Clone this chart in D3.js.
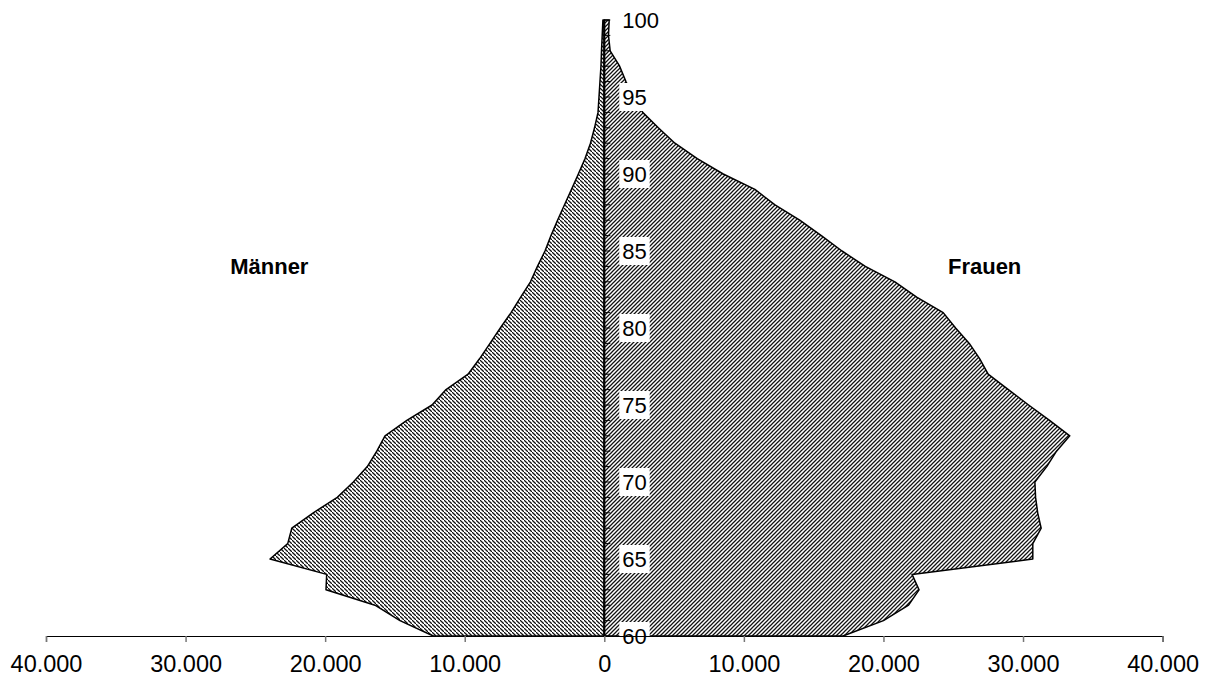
<!DOCTYPE html>
<html>
<head>
<meta charset="utf-8">
<script src="https://cdn.jsdelivr.net/npm/d3@7"></script>
<style>
  html, body { margin: 0; padding: 0; background: #fff; }
  svg { display: block; font-family: Arial, "Liberation Sans", sans-serif; }
</style>
</head>
<body>
<svg id="chart" width="1209" height="686"></svg>
<script>
// ---- data ----
const ages = [60,61,62,63,64,65,66,67,68,69,70,71,72,73,74,75,76,77,78,79,80,
              81,82,83,84,85,86,87,88,89,90,91,92,93,94,95,96,97,98,99,100];
const maenner = [12250,14640,16430,19940,19890,23950,22680,22390,20850,19130,17980,
                 16980,16300,15710,14150,12340,11340,9760,8940,8190,7450,
                 6680,5990,5290,4790,4250,3820,3350,2850,2350,1860,
                 1380,990,700,450,380,310,240,200,150,100];
const frauen = [17100,20000,21800,22550,22050,30700,30700,31300,31050,30900,30850,
                31700,32400,33350,31900,30400,28950,27500,26900,26150,25170,
                24280,22380,20820,18700,17030,15550,14000,12230,10790,8520,
                6660,5060,3870,2750,2100,1550,1100,420,300,350];
const xTicks = [-40000,-30000,-20000,-10000,0,10000,20000,30000,40000];
const ageLabels = [60,65,70,75,80,85,90,95,100];
const seriesNames = ["Männer","Frauen"];

// ---- scales ----
const svg = d3.select("#chart");
const x = d3.scaleLinear().domain([-40000, 40000]).range([46, 1162.6]);
const y = d3.scaleLinear().domain([60, 100]).range([636, 20]);
const loc = d3.formatLocale({decimal: ",", thousands: ".", grouping: [3], currency: ["", "€"]});
const fmt = loc.format(",");

// ---- patterns ----
const defs = svg.append("defs");
defs.append("pattern").attr("id","hatchL").attr("patternUnits","userSpaceOnUse")
  .attr("width",4).attr("height",4)
  .append("path").attr("d","M-1,-1 L1,1 M0,0 L4,4 M3,3 L5,5")
  .attr("stroke","#111").attr("stroke-width",1.25);
defs.append("pattern").attr("id","hatchR").attr("patternUnits","userSpaceOnUse")
  .attr("width",4).attr("height",4)
  .append("path").attr("d","M-1,1 L1,-1 M0,4 L4,0 M3,5 L5,3")
  .attr("stroke","#111").attr("stroke-width",1.25);

// ---- areas ----
const menData = ages.map((a,i) => ({age: a, v: -maenner[i]}));
const womenData = ages.map((a,i) => ({age: a, v: frauen[i]}));
const area = d3.area().x0(() => x(0)).x1(d => x(d.v)).y(d => y(d.age));

svg.append("path").datum(menData)
  .attr("d", area)
  .attr("fill","url(#hatchL)").attr("stroke","#000").attr("stroke-width",1.5)
  .attr("stroke-linejoin","round");
svg.append("path").datum(womenData)
  .attr("d", area)
  .attr("fill","url(#hatchR)").attr("stroke","#000").attr("stroke-width",1.5)
  .attr("stroke-linejoin","round");

// ---- vertical age axis ----
const yAxisG = svg.append("g");
yAxisG.append("line")
  .attr("x1", x(0)).attr("x2", x(0)).attr("y1", y(60)).attr("y2", y(100))
  .attr("stroke","#000").attr("stroke-width",2);
yAxisG.selectAll("line.tick").data(ages).enter().append("line")
  .attr("class","tick")
  .attr("x1", x(0)).attr("x2", x(0) + 6)
  .attr("y1", d => y(d)).attr("y2", d => y(d))
  .attr("stroke","#000").attr("stroke-width",1);

const lab = yAxisG.selectAll("g.agelab").data(ageLabels).enter().append("g")
  .attr("class","agelab")
  .attr("transform", d => `translate(${x(0) + 18},${y(d)})`);
lab.append("rect")
  .attr("x", -3).attr("y", -14)
  .attr("width", d => String(d).length * 12.2 + 6).attr("height", 28)
  .attr("fill","#fff");
lab.append("text")
  .attr("x", 0).attr("y", 0).attr("dy","0.35em")
  .attr("font-size", 22).attr("fill","#000")
  .text(d => d);

// ---- horizontal axis ----
const xAxis = d3.axisBottom(x).tickValues(xTicks).tickSize(6).tickPadding(13)
  .tickFormat(d => fmt(Math.abs(d)));
const xg = svg.append("g").attr("transform", `translate(0,${y(60)})`).call(xAxis);
xg.select(".domain").attr("stroke","#000").attr("stroke-width",1.2);
xg.selectAll(".tick line").attr("stroke","#777").attr("stroke-width",1.5);
xg.selectAll(".tick text").attr("font-size", 23.5).attr("fill","#000")
  .attr("font-family","Arial, 'Liberation Sans', sans-serif");

// ---- series labels ----
svg.append("text").attr("x", x(-24000)).attr("y", y(84)).attr("dy","0.35em")
  .attr("text-anchor","middle").attr("font-size",22).attr("font-weight","bold")
  .text(seriesNames[0]);
svg.append("text").attr("x", x(27250)).attr("y", y(84)).attr("dy","0.35em")
  .attr("text-anchor","middle").attr("font-size",22).attr("font-weight","bold")
  .text(seriesNames[1]);
</script>
</body>
</html>
